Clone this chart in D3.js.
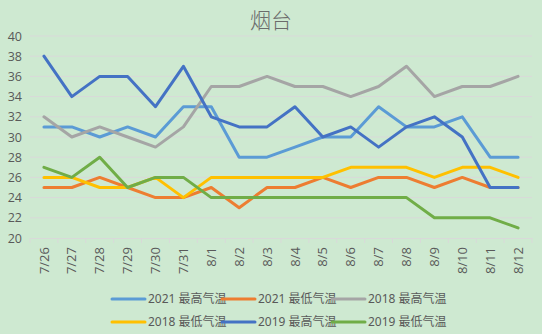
<!DOCTYPE html>
<html><head><meta charset="utf-8">
<script src="https://cdn.jsdelivr.net/npm/d3@7"></script>
<style>
html,body{margin:0;padding:0;background:#CEE9D1;}
svg{display:block;font-family:"Noto Sans","Noto Sans CJK SC",sans-serif;}
</style></head><body>
<svg id="c" width="542" height="334"></svg>
<script>
const categories = ["7/26","7/27","7/28","7/29","7/30","7/31","8/1","8/2","8/3","8/4","8/5","8/6","8/7","8/8","8/9","8/10","8/11","8/12"];
const seriesNames = ["2021 最高气温","2021 最低气温","2018 最高气温","2018 最低气温","2019 最高气温","2019 最低气温"];
const seriesColors = ["#5B9BD5","#ED7D31","#A5A5A5","#FFC000","#4472C4","#70AD47"];
const high2021 = [31,31,30,31,30,33,33,28,28,29,30,30,33,31,31,32,28,28];
const low2021  = [25,25,26,25,24,24,25,23,25,25,26,25,26,26,25,26,25,25];
const high2018 = [32,30,31,30,29,31,35,35,36,35,35,34,35,37,34,35,35,36];
const low2018  = [26,26,25,25,26,24,26,26,26,26,26,27,27,27,26,27,27,26];
const high2019 = [38,34,36,36,33,37,32,31,31,33,30,31,29,31,32,30,25,25];
const low2019  = [27,26,28,25,26,26,24,24,24,24,24,24,24,24,22,22,22,21];
const yTicks = [20,22,24,26,28,30,32,34,36,38,40];
const title = "烟台";

const seriesData = [high2021, low2021, high2018, low2018, high2019, low2019];
const svg = d3.select("#c");
const L = 30, R = 532, T = 36, B = 238;

const x = d3.scaleBand().domain(categories).range([L, R]);
const y = d3.scaleLinear().domain([20, 40]).range([B, T]);

// title
svg.append("text").attr("x", 271).attr("y", 28).attr("text-anchor", "middle")
  .attr("font-size", 21).attr("font-weight", 300).attr("fill", "#6b6b6b")
  .attr("font-family", "'Noto Sans CJK SC',sans-serif").text(title);

// gridlines
svg.append("g").selectAll("line").data(yTicks.filter(d => d > 20)).join("line")
  .attr("x1", L).attr("x2", R).attr("y1", d => y(d)).attr("y2", d => y(d))
  .attr("stroke", "#D9D9D9").attr("stroke-width", 1);

// y axis
const ya = svg.append("g").attr("transform", `translate(${L - 8},0)`)
  .call(d3.axisLeft(y).tickValues(yTicks).tickSize(0).tickPadding(0));
ya.select(".domain").remove();
ya.selectAll("text").attr("font-size", 12.5).attr("fill", "#595959")
  .attr("font-family", "'Open Sans',sans-serif");

// x axis
const xa = svg.append("g").attr("transform", `translate(0,${B})`)
  .call(d3.axisBottom(x).tickSize(0));
xa.select(".domain").attr("stroke", "#D9D9D9");
xa.selectAll(".tick line").remove();
xa.selectAll(".tick text")
  .attr("font-size", 13).attr("fill", "#595959")
  .attr("font-family", "'Open Sans',sans-serif")
  .attr("transform", "rotate(-90)")
  .attr("text-anchor", "end").attr("x", -9).attr("y", 0).attr("dy", "0.35em");
// tick marks at band boundaries
const bounds = categories.map(c => x(c)).concat([R]);
svg.append("g").selectAll("line").data(bounds).join("line")
  .attr("x1", d => d).attr("x2", d => d).attr("y1", B).attr("y2", B + 5)
  .attr("stroke", "#D9D9D9");

// lines
const line = d3.line()
  .x((d, i) => x(categories[i]) + x.bandwidth() / 2)
  .y(d => y(d));
svg.append("g").selectAll("path").data(seriesData).join("path")
  .attr("d", d => line(d)).attr("fill", "none")
  .attr("stroke", (d, i) => seriesColors[i]).attr("stroke-width", 3)
  .attr("stroke-linejoin", "round").attr("stroke-linecap", "round");

// legend
const legX = [112, 222, 332];
const legY = [299, 322];
const lg = svg.append("g").selectAll("g").data(seriesNames).join("g")
  .attr("transform", (d, i) => `translate(${legX[i % 3]},${legY[Math.floor(i / 3)]})`);
lg.append("line").attr("x1", 0).attr("x2", 33).attr("y1", 0).attr("y2", 0)
  .attr("stroke", (d, i) => seriesColors[i]).attr("stroke-width", 3).attr("stroke-linecap", "round");
lg.append("text").attr("x", 36).attr("y", 0).attr("dy", "0.35em")
  .attr("font-size", 12).attr("fill", "#595959").text(d => d);
</script>
</body></html>
